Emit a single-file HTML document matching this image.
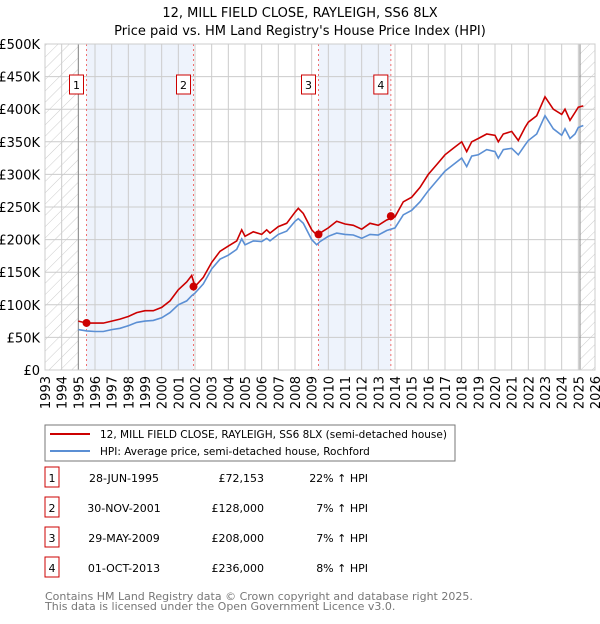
<!DOCTYPE html>
<html><head><meta charset="utf-8"><style>
body{margin:0;background:#fff;font-family:"DejaVu Sans","Liberation Sans",sans-serif;}
svg text{font-family:"DejaVu Sans","Liberation Sans",sans-serif;}
</style></head><body>
<svg id="c" width="600" height="620" xmlns="http://www.w3.org/2000/svg">
<defs><pattern id="hatch" width="8" height="8" patternUnits="userSpaceOnUse" patternTransform="rotate(45)"><line x1="0" y1="0" x2="0" y2="8" stroke="#ccc" stroke-width="1"/></pattern></defs>
<text x="300" y="17" text-anchor="middle" font-size="13">12, MILL FIELD CLOSE, RAYLEIGH, SS6 8LX</text>
<text x="300" y="35" text-anchor="middle" font-size="13">Price paid vs. HM Land Registry's House Price Index (HPI)</text>
<g id="plot"></g>
<rect x="45" y="425" width="410" height="36" fill="#fff" stroke="#777"/>
<line x1="50" y1="434" x2="90" y2="434" stroke="#cc0000" stroke-width="2"/>
<text x="100" y="438" font-size="10.5">12, MILL FIELD CLOSE, RAYLEIGH, SS6 8LX (semi-detached house)</text>
<line x1="50" y1="451" x2="90" y2="451" stroke="#5b8fd4" stroke-width="2"/>
<text x="100" y="455" font-size="10.5">HPI: Average price, semi-detached house, Rochford</text>
<g id="table"></g>
<text x="45" y="600" font-size="11" fill="#777">Contains HM Land Registry data © Crown copyright and database right 2025.</text>
<text x="45" y="610" font-size="11" fill="#777">This data is licensed under the Open Government Licence v3.0.</text>
</svg>
<script>
const dates=[1995,1995.5,1996,1996.5,1997,1997.5,1998,1998.5,1999,1999.5,2000,2000.5,2001,2001.5,2001.8,2002,2002.5,2003,2003.5,2004,2004.5,2004.8,2005,2005.5,2006,2006.3,2006.5,2007,2007.5,2008,2008.2,2008.5,2009,2009.3,2009.5,2010,2010.5,2011,2011.5,2012,2012.5,2013,2013.5,2014,2014.5,2015,2015.5,2016,2016.5,2017,2017.5,2018,2018.3,2018.6,2019,2019.5,2020,2020.2,2020.5,2021,2021.4,2021.8,2022,2022.5,2023,2023.5,2024,2024.2,2024.5,2024.8,2025,2025.3];
const hpiValues=[62,60,59,59,62,64,68,73,75,76,80,88,100,106,114,118,132,155,170,176,185,201,192,198,197,202,198,208,213,228,232,225,200,192,197,205,210,208,207,202,208,207,214,218,238,245,258,275,290,305,315,325,312,328,330,338,335,325,338,340,330,345,352,362,390,370,360,370,355,362,372,375];
const propValues=[75,72,72,72,75,78,82,88,91,91,96,106,123,135,145,128,142,165,182,190,198,215,205,212,208,215,210,220,225,242,248,240,215,207,210,218,228,224,222,216,225,222,230,235,258,265,280,300,315,330,340,350,335,350,355,362,360,350,362,366,352,372,380,390,419,400,392,400,383,395,403,405];
const saleDates=[1995.49,2001.91,2009.41,2013.75];
const salePrices=[72.153,128,208,236];
const saleLabels=["1","2","3","4"];
const saleDateText=["28-JUN-1995","30-NOV-2001","29-MAY-2009","01-OCT-2013"];
const salePriceText=["£72,153","£128,000","£208,000","£236,000"];
const saleHpiText=["22% ↑ HPI","7% ↑ HPI","7% ↑ HPI","8% ↑ HPI"];
const yTicks=[0,50,100,150,200,250,300,350,400,450,500];
const yTickLabels=["£0","£50K","£100K","£150K","£200K","£250K","£300K","£350K","£400K","£450K","£500K"];
const xYears=[1993,1994,1995,1996,1997,1998,1999,2000,2001,2002,2003,2004,2005,2006,2007,2008,2009,2010,2011,2012,2013,2014,2015,2016,2017,2018,2019,2020,2021,2022,2023,2024,2025,2026];
const NS="http://www.w3.org/2000/svg";
const L=45,R=595,T=44,B=370;
const xs=y=>L+(y-1993)/(2026-1993)*(R-L);
const ys=v=>B-v/500*(B-T);
function mk(tag,attrs,parent,text){const e=document.createElementNS(NS,tag);for(const k in attrs)e.setAttribute(k,attrs[k]);if(text!==undefined)e.textContent=text;parent.appendChild(e);return e;}
const g=document.getElementById('plot');
let e;
e=mk('rect',{x:xs(1995.49),y:T,width:xs(2001.91)-xs(1995.49),height:B-T,fill:'#eef3fc'},g);


e=mk('rect',{x:xs(2009.41),y:T,width:xs(2013.75)-xs(2009.41),height:B-T,fill:'#eef3fc'},g);


xYears.forEach(y=>{e=mk('line',{x1:xs(y),x2:xs(y),y1:T,y2:B,stroke:'#ccc'},g);

});
yTicks.forEach(v=>{e=mk('line',{x1:L,x2:R,y1:ys(v),y2:ys(v),stroke:'#ccc'},g);

});
e=mk('rect',{x:L,y:T,width:xs(1995)-L,height:B-T,fill:'url(#hatch)',stroke:'none'},g);


e=mk('rect',{x:xs(2025.1),y:T,width:R-xs(2025.1),height:B-T,fill:'url(#hatch)'},g);


e=mk('line',{x1:xs(1995),x2:xs(1995),y1:T,y2:B,stroke:'#888'},g);


e=mk('line',{x1:xs(2025.1),x2:xs(2025.1),y1:T,y2:B,stroke:'#888'},g);


saleDates.forEach((d,i)=>{e=mk('line',{x1:xs(d),x2:xs(d),y1:T,y2:B,stroke:'#f07070','stroke-dasharray':'2,3'},g);

});
e=mk('rect',{x:L,y:T,width:R-L,height:B-T,fill:'none',stroke:'#ccc'},g);


const pts=a=>dates.map((d,i)=>xs(d).toFixed(1)+','+ys(a[i]).toFixed(1)).join(' ');
e=mk('polyline',{points:pts(hpiValues),fill:'none',stroke:'#5b8fd4','stroke-width':1.6},g);


e=mk('polyline',{points:pts(propValues),fill:'none',stroke:'#cc0000','stroke-width':1.6},g);


saleDates.forEach((d,i)=>{
e=mk('circle',{cx:xs(d),cy:ys(salePrices[i]),r:4,fill:'#cc0000'},g);


e=mk('rect',{x:xs(d)-17,y:75,width:14,height:19,fill:'#fff',stroke:'#cc0000'},g);


e=mk('text',{x:xs(d)-10,y:89,'text-anchor':'middle','font-size':11},g,saleLabels[i]);


});
yTicks.forEach((v,i)=>{e=mk('text',{x:40,y:ys(v)+5,'text-anchor':'end','font-size':13},g,yTickLabels[i]);

});
xYears.forEach(y=>{e=mk('text',{x:0,y:0,'text-anchor':'end','font-size':13,transform:`translate(${xs(y)+5},376) rotate(-90)`},g,String(y));

});
const t=document.getElementById('table');
saleLabels.forEach((lab,i)=>{const yy=479+i*30;
e=mk('rect',{x:45,y:yy-12,width:14,height:20,fill:'#fff',stroke:'#cc0000'},t);


e=mk('text',{x:52,y:yy+3,'text-anchor':'middle','font-size':11},t,lab);


e=mk('text',{x:124,y:yy+3,'text-anchor':'middle','font-size':11},t,saleDateText[i]);


e=mk('text',{x:264,y:yy+3,'text-anchor':'end','font-size':11},t,salePriceText[i]);


e=mk('text',{x:368,y:yy+3,'text-anchor':'end','font-size':11},t,saleHpiText[i]);


});
</script>
</body></html>
